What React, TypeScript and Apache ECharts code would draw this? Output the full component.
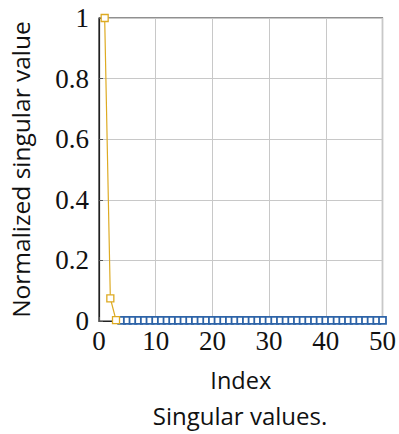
import React, { useEffect, useRef } from "react";
import * as echarts from "echarts";

const xTicks = [0, 10, 20, 30, 40, 50];
const yTicks = [0, 0.2, 0.4, 0.6, 0.8, 1];
const leadIndex = [1, 2, 3];
const leadValues = [1, 0.075, 0.003];
const tailIndex = [4, 5, 6, 7, 8, 9, 10, 11, 12, 13, 14, 15, 16, 17, 18, 19, 20, 21, 22, 23, 24, 25, 26, 27, 28, 29, 30, 31, 32, 33, 34, 35, 36, 37, 38, 39, 40, 41, 42, 43, 44, 45, 46, 47, 48, 49, 50];
const tailValues = [0.002, 0.002, 0.002, 0.002, 0.002, 0.002, 0.002, 0.002, 0.002, 0.002, 0.002, 0.002, 0.002, 0.002, 0.002, 0.002, 0.002, 0.002, 0.002, 0.002, 0.002, 0.002, 0.002, 0.002, 0.002, 0.002, 0.002, 0.002, 0.002, 0.002, 0.002, 0.002, 0.002, 0.002, 0.002, 0.002, 0.002, 0.002, 0.002, 0.002, 0.002, 0.002, 0.002, 0.002, 0.002, 0.002, 0.002];
const xLabel = "Index";
const yLabel = "Normalized singular value";
const caption = "Singular values.";

const ORANGE = "#DDAA22";
const BLUE = "#2E64A8";
const SERIF = "'Liberation Serif', 'DejaVu Serif', serif";
const SANS = "'Open Sans', 'DejaVu Sans', sans-serif";

export default function App() {
  const ref = useRef<HTMLDivElement>(null);
  useEffect(() => {
    if (!ref.current) return;
    const chart = echarts.init(ref.current, null, { renderer: "svg" });
    chart.setOption({
      animation: false,
      backgroundColor: "#ffffff",
      grid: {
        left: 96,
        right: 16,
        top: 18,
        bottom: 113,
        show: true,
        borderColor: "#222",
        borderWidth: 1.2,
      },
      xAxis: {
        type: "value",
        min: xTicks[0],
        max: xTicks[xTicks.length - 1],
        interval: 10,
        name: xLabel,
        nameLocation: "middle",
        nameGap: 47,
        nameTextStyle: { fontFamily: SANS, fontSize: 23.5, color: "#111" },
        axisLine: { show: true, lineStyle: { color: "#222", width: 1.2 } },
        axisTick: { show: true, inside: true, length: 4, lineStyle: { color: "#555" } },
        axisLabel: { fontFamily: SERIF, fontSize: 27, color: "#111", margin: 6 },
        splitLine: { show: true, lineStyle: { color: "#c8c8c8", width: 1 } },
      },
      yAxis: {
        type: "value",
        min: yTicks[0],
        max: yTicks[yTicks.length - 1],
        interval: 0.2,
        name: yLabel,
        nameLocation: "middle",
        nameGap: 66,
        nameTextStyle: { fontFamily: SANS, fontSize: 24.5, color: "#111" },
        axisLine: { show: true, lineStyle: { color: "#222", width: 1.2 } },
        axisTick: { show: true, inside: true, length: 4, lineStyle: { color: "#555" } },
        axisLabel: { fontFamily: SERIF, fontSize: 27, color: "#111", margin: 10 },
        splitLine: { show: true, lineStyle: { color: "#c8c8c8", width: 1 } },
      },
      graphic: [
        {
          type: "text",
          x: 240,
          y: 415,
          style: {
            text: caption,
            fontFamily: SANS,
            fontSize: 24,
            fill: "#111",
            textAlign: "center",
            textVerticalAlign: "middle",
          },
        },
      ],
      series: [
        {
          type: "line",
          data: tailIndex.map((x, i) => [x, tailValues[i]]),
          symbol: "rect",
          symbolSize: 7,
          itemStyle: { color: "#ffffff", borderColor: BLUE, borderWidth: 1.8 },
          lineStyle: { color: BLUE, width: 1.2 },
          z: 3,
        },
        {
          type: "line",
          data: leadIndex.map((x, i) => [x, leadValues[i]]),
          symbol: "rect",
          symbolSize: 7,
          itemStyle: { color: "#ffffff", borderColor: ORANGE, borderWidth: 1.3 },
          lineStyle: { color: ORANGE, width: 1.2 },
          z: 4,
        },
      ],
    });
    return () => chart.dispose();
  }, []);
  return (
    <div
      ref={ref}
      style={{ position: "fixed", left: 0, top: 0, width: 399, height: 434, background: "#fff" }}
    />
  );
}
